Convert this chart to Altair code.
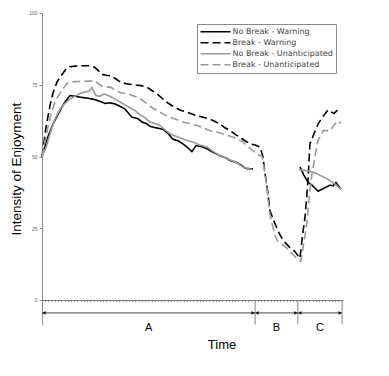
import altair as alt
import pandas as pd

series_names = ["No Break - Warning", "Break - Warning",
                "No Break - Unanticipated", "Break - Unanticipated"]

# No Break - Warning (two segments: before and after the break)
nbw_t1 = [0, 2.0, 4.0, 6.0, 7.6, 9.3, 11.0, 13.0, 15.3, 17.6, 19.3, 20.9, 22.6, 24.3, 25.9, 27.6,
          29.2, 29.9, 31.9, 33.2, 34.6, 35.9, 37.9, 40.2, 41.9, 43.5, 45.2, 46.8, 48.5, 49.8, 51.2,
          52.8, 54.8, 56.8, 59.1, 61.1, 62.5, 64.5, 65.8, 67.8, 70.1]
nbw_v1 = [50, 57, 62, 66, 69, 71.2, 71, 70.6, 70.3, 69.8, 69.2, 68.5, 68.7, 68.3, 67.5, 66.5,
          64.5, 63.7, 63.2, 62, 61.5, 60.5, 60, 59.5, 58, 56, 55.5, 54.4, 53, 51.7, 53.8,
          53.5, 52.7, 51.5, 50.3, 49.5, 48.6, 48, 47.2, 45.8, 45.7]
nbw_t2 = [85.7, 87.0, 88.4, 89.7, 91.7, 93.4, 95.7, 96.7, 97.7, 98.3, 99.3]
nbw_v2 = [46.4, 43.5, 41, 40, 37.9, 38.8, 40, 39.8, 40.9, 40, 38.6]

# No Break - Unanticipated
nbu_t1 = [0, 1.3, 2.7, 4.3, 6.0, 7.6, 9.3, 11.0, 12.6, 14.3, 15.6, 16.6, 17.9, 19.3, 20.6, 22.6,
          24.3, 25.9, 27.6, 29.2, 30.9, 32.6, 34.2, 35.9, 37.5, 39.2, 41.2, 43.2, 45.2, 46.8, 48.5,
          50.2, 52.5, 54.8, 56.8, 59.1, 61.5, 63.5, 65.1, 66.8, 68.4, 69.8]
nbu_v1 = [50, 53, 58, 63, 66.5, 68.5, 70, 71, 72, 72.5, 72.8, 74, 71.2, 71, 71.8, 71,
          70, 69, 68, 67, 66, 64.5, 63.5, 62, 61.5, 60.8, 59, 57.5, 56.8, 56.1, 55.5,
          55, 54, 53.3, 51.8, 50.3, 49.2, 48.4, 47.5, 46.3, 45.8, 45.5]
nbu_t2 = [85.4, 86.7, 88.4, 90.0, 91.7, 93.4, 95.0, 96.7, 98.0, 99.3]
nbu_v2 = [45.4, 45.2, 45, 44.6, 43.8, 42.9, 42, 40.9, 39.8, 38.6]

# Break - Warning
bw_t = [0, 1.3, 2.7, 3.7, 5.0, 6.3, 8.0, 9.3, 11.0, 12.6, 14.3, 16.0, 17.6, 18.6, 19.6, 21.3,
        22.9, 24.6, 26.2, 27.9, 29.2, 31.2, 32.9, 34.9, 36.5, 38.2, 39.9, 41.5, 43.5, 45.8, 48.5,
        51.5, 53.5, 55.8, 57.5, 59.1, 60.8, 62.5, 64.1, 65.8, 67.4, 69.1, 70.8, 72.4, 73.4, 74.1,
        75.1, 75.7, 77.4, 78.7, 80.1, 82.1, 84.1, 85.7, 86.5, 87.4, 88.4, 89.0, 90.4, 91.7, 93.0,
        94.0, 95.0, 96.0, 97.0, 98.0, 99.0]
bw_v = [50, 60, 68, 72.3, 76, 78.1, 80.5, 81.3, 81.5, 81.6, 81.6, 81.6, 81, 80, 78.7, 78.3,
        78.1, 77, 75.8, 75.4, 75.2, 74.9, 74.7, 74.1, 73, 71.8, 70.3, 68.9, 67.5, 66.2, 65.3,
        64.2, 63.7, 63, 62.2, 61.3, 60, 59, 57.8, 56.7, 55.5, 54.4, 54, 53.3, 50, 44,
        37, 31.2, 26.6, 23.5, 20.8, 18.5, 16.8, 14.5, 22, 29, 42, 54.4, 58, 61.3, 63.5,
        64.8, 66.2, 65.6, 65.0, 66.0, 66.5]

# Break - Unanticipated
bu_t = [0, 1.3, 3.0, 4.3, 6.0, 7.3, 8.6, 11.0, 14.3, 16.0, 17.6, 18.6, 19.6, 21.3, 22.9, 24.3,
        25.9, 28.6, 30.2, 31.9, 33.6, 35.2, 36.9, 39.2, 40.9, 42.5, 44.9, 46.8, 49.2, 51.5, 53.5,
        55.8, 58.1, 60.1, 61.8, 63.5, 65.1, 66.8, 68.4, 70.1, 71.8, 73.1, 73.8, 74.8, 75.7, 76.4,
        77.4, 78.4, 80.1, 81.4, 82.4, 84.4, 86.0, 87.0, 88.0, 88.7, 89.7, 90.7, 91.7, 93.4, 95.7,
        96.7, 97.3, 98.3, 99.3]
bu_v = [50, 57, 64.8, 69, 72, 74, 75.8, 76.1, 76.2, 76.3, 76.2, 75.5, 74.7, 74.3, 74.1, 73.2,
        72.3, 71.8, 71.2, 70.6, 69.5, 68, 66.8, 65.4, 64.5, 63.7, 62.8, 62, 61.4, 60.8, 60,
        59, 58.5, 57.9, 57.3, 56.7, 56, 55, 53.5, 52, 50.6, 50, 46, 38.2, 30, 26.6,
        22.5, 20.3, 19.1, 18, 16.8, 14.8, 13.5, 20, 26.6, 35, 44, 50, 55.6, 59, 59,
        60.5, 61.3, 62.5, 61.5]

# Phase annotations
phase_labels = ["A", "B", "C"]
phase_bounds = [0, 70.8, 85.0, 99.7]
y_ticks = [0, 25, 50, 75, 100]
x_ticks = [round(i * 1.07, 2) for i in range(94)]

rows = []
def add(name, seg, ts, vs):
    for t, v in zip(ts, vs):
        rows.append({"series": name, "seg": f"{name}-{seg}", "t": t, "v": v})

add(series_names[0], 1, nbw_t1, nbw_v1)
add(series_names[0], 2, nbw_t2, nbw_v2)
add(series_names[1], 1, bw_t, bw_v)
add(series_names[2], 1, nbu_t1, nbu_v1)
add(series_names[2], 2, nbu_t2, nbu_v2)
add(series_names[3], 1, bu_t, bu_v)
df = pd.DataFrame(rows)

PX = 2.87
Y_MIN = -8.5
H = (100 - Y_MIN) * PX

xscale = alt.Scale(domain=[0, 100], nice=False, zero=False)
yscale = alt.Scale(domain=[Y_MIN, 100], nice=False, zero=False)

x_axis = alt.Axis(values=x_ticks, labels=False, title=None,
                  domainColor="#777", tickColor="#999", tickSize=1.5,
                  offset=-(0 - Y_MIN) * PX, grid=False)
y_axis = alt.Axis(values=y_ticks, title="Intensity of Enjoyment",
                  titleFont="Liberation Sans", titleFontSize=13.5,
                  titleFontWeight="normal", titleColor="black", titlePadding=5,
                  labelFontSize=5, labelColor="#666", labelPadding=2,
                  tickSize=3, tickColor="#888", domainColor="#888", grid=False)


def X(field):
    return alt.X(field, scale=xscale, axis=x_axis)


def Y(field):
    return alt.Y(field, scale=yscale, axis=y_axis)


leg = alt.Legend(title=None, orient="none", legendX=155, legendY=11,
                 symbolType="stroke", symbolSize=900, symbolStrokeWidth=1.5,
                 clipHeight=10.5, rowPadding=0, padding=2.5, strokeColor="#888",
                 fillColor="white", labelFont="DejaVu Sans", labelFontSize=8,
                 labelColor="#444", labelOffset=1, labelLimit=300)

lines = alt.Chart(df).mark_line(strokeWidth=1.6).encode(
    x=X("t:Q"), y=Y("v:Q"),
    color=alt.Color("series:N", scale=alt.Scale(domain=series_names,
                    range=["#000000", "#000000", "#999999", "#999999"]), legend=leg),
    strokeDash=alt.StrokeDash("series:N", scale=alt.Scale(domain=series_names,
                    range=[[1, 0], [8, 4], [1, 0], [8, 4]]), legend=leg),
    detail="seg:N",
    order="t:Q",
)

ph = pd.DataFrame({
    "label": phase_labels,
    "start": phase_bounds[:-1],
    "end": phase_bounds[1:],
})
ph["mid"] = (ph["start"] + ph["end"]) / 2
ph["arrow_y"] = -4.5
ph["label_y"] = -9.6
ph["top"] = 0
ph["bottom"] = Y_MIN

arrows = alt.Chart(ph).mark_rule(color="#444", strokeWidth=1).encode(
    x=X("start:Q"), x2="end:Q", y=Y("arrow_y:Q"))
heads_l = alt.Chart(ph).mark_point(shape="triangle-left", filled=True, size=14,
                                   color="#111", opacity=1, xOffset=2).encode(
    x=X("start:Q"), y=Y("arrow_y:Q"))
heads_r = alt.Chart(ph).mark_point(shape="triangle-right", filled=True, size=14,
                                   color="#111", opacity=1, xOffset=-2).encode(
    x=X("end:Q"), y=Y("arrow_y:Q"))
seps = alt.Chart(ph).mark_rule(color="#888", strokeWidth=1).encode(
    x=X("end:Q"), y=Y("top:Q"), y2="bottom:Q")
labels = alt.Chart(ph).mark_text(font="Liberation Sans", fontSize=11, color="black",
                                 baseline="middle").encode(
    x=X("mid:Q"), y=Y("label_y:Q"), text="label:N")

tt = pd.DataFrame({"txt": ["Time"], "t": [59.8], "v": [-15.8]})
time_title = alt.Chart(tt).mark_text(font="Liberation Sans", fontSize=13, color="black",
                                     baseline="middle").encode(
    x=X("t:Q"), y=Y("v:Q"), text="txt:N")

chart = alt.layer(lines, seps, arrows, heads_l, heads_r, labels, time_title).properties(
    width=301, height=H,
    autosize=alt.AutoSizeParams(type="none"),
    padding={"left": 34, "top": 5, "right": 10, "bottom": 40},
    background="white",
).configure_view(strokeWidth=0)

chart.save("out.html", embed_options={"renderer": "svg", "actions": False})
